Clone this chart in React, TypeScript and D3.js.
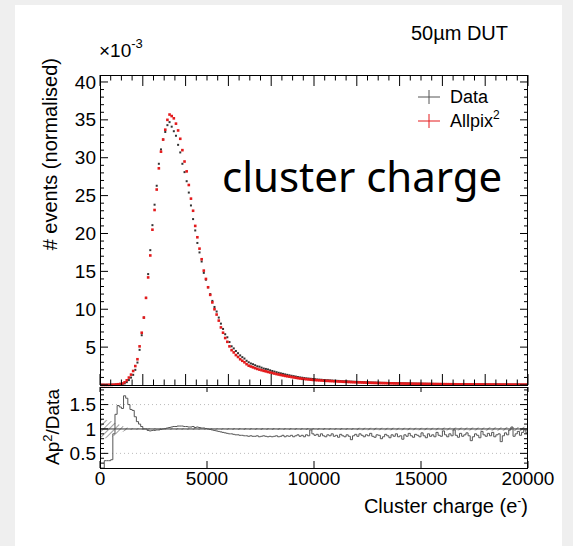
import React from 'react';
import * as d3 from 'd3';

// cluster charge spectrum, 100 e- bins from 0 to 20000, values in units of 1e-3
const BIN = 100;

const allpix = [
  0.01, 0.01, 0.012, 0.014, 0.016, 0.02, 0.04, 0.07, 0.1, 0.14, 0.2, 0.35, 0.62, 0.98, 1.37, 1.85, 2.5, 3.4, 5.1, 6.9,
  8.9, 11.5, 14.2, 17.1, 20.5, 23.1, 25.8, 28.6, 30.8, 32.4, 33.7, 35.0, 35.7, 35.5, 35.2, 34.5, 33.6, 32.5, 31.0, 29.5,
  28.2, 26.4, 24.6, 23.0, 21.0, 19.5, 18.0, 16.6, 15.1, 14.0, 12.9, 11.9, 10.9, 10.0, 9.3, 8.5, 7.6, 6.9, 6.2, 5.7,
  5.1, 4.6, 4.3, 3.95, 3.7, 3.4, 3.2, 3.0, 2.75, 2.55, 2.44, 2.33, 2.22, 2.12, 2.03, 1.95, 1.87, 1.8, 1.72, 1.65,
  1.58, 1.51, 1.44, 1.38, 1.32, 1.26, 1.2, 1.15, 1.1, 1.05, 1.0, 0.95, 0.9, 0.86, 0.82, 0.79, 0.76, 0.73, 0.7, 0.67,
  0.65, 0.63, 0.61, 0.59, 0.57, 0.55, 0.54, 0.52, 0.51, 0.49, 0.48, 0.46, 0.45, 0.43, 0.42, 0.41, 0.4, 0.38, 0.37, 0.36,
  0.35, 0.34, 0.33, 0.32, 0.31, 0.3, 0.29, 0.28, 0.27, 0.265, 0.26, 0.25, 0.245, 0.24, 0.23, 0.225, 0.22, 0.21, 0.205, 0.2,
  0.195, 0.19, 0.185, 0.18, 0.175, 0.17, 0.165, 0.16, 0.156, 0.152, 0.148, 0.144, 0.14, 0.136, 0.132, 0.128, 0.125, 0.122, 0.119, 0.116,
  0.113, 0.11, 0.107, 0.104, 0.101, 0.098, 0.095, 0.093, 0.091, 0.089, 0.087, 0.085, 0.083, 0.081, 0.079, 0.077, 0.075, 0.073, 0.071, 0.069,
  0.067, 0.066, 0.064, 0.063, 0.061, 0.06, 0.058, 0.057, 0.056, 0.054, 0.053, 0.052, 0.051, 0.05, 0.049, 0.048, 0.047, 0.046, 0.045, 0.044,
];

const measured = [
  0.05, 0.05, 0.034, 0.04, 0.046, 0.054, 0.044, 0.054, 0.068, 0.097, 0.14, 0.21, 0.38, 0.65, 0.98, 1.34, 2.0, 2.96, 4.64, 6.57,
  8.9, 11.5, 14.64, 17.8, 21.1, 23.8, 26.3, 29.2, 31.1, 32.4, 33.4, 34.3, 34.7, 34.1, 33.5, 32.9, 31.7, 30.7, 29.2, 28.1,
  26.9, 25.4, 23.7, 21.9, 20.4, 18.75, 17.5, 16.3, 14.8, 13.9, 12.9, 12.0, 11.1, 10.3, 9.7, 8.9, 8.1, 7.4, 6.7, 6.3,
  5.67, 5.11, 4.83, 4.49, 4.2, 3.91, 3.68, 3.49, 3.2, 3.0, 2.84, 2.74, 2.61, 2.47, 2.42, 2.29, 2.17, 2.12, 2.05, 1.94,
  1.85, 1.77, 1.69, 1.61, 1.54, 1.47, 1.4, 1.34, 1.28, 1.22, 1.17, 1.11, 1.05, 1.0, 0.96, 0.92, 0.88, 0.85, 0.82, 0.79,
  0.76, 0.73, 0.71, 0.69, 0.66, 0.64, 0.63, 0.61, 0.59, 0.57, 0.56, 0.54, 0.52, 0.5, 0.49, 0.48, 0.46, 0.45, 0.43, 0.42,
  0.41, 0.4, 0.38, 0.37, 0.36, 0.35, 0.34, 0.33, 0.32, 0.31, 0.3, 0.29, 0.285, 0.28, 0.27, 0.26, 0.255, 0.245, 0.24, 0.235,
  0.23, 0.22, 0.215, 0.21, 0.205, 0.2, 0.19, 0.185, 0.18, 0.177, 0.172, 0.168, 0.163, 0.158, 0.154, 0.149, 0.145, 0.142, 0.138, 0.135,
  0.131, 0.128, 0.124, 0.121, 0.117, 0.114, 0.11, 0.108, 0.106, 0.103, 0.101, 0.099, 0.096, 0.094, 0.092, 0.09, 0.087, 0.085, 0.083, 0.08,
  0.078, 0.077, 0.075, 0.073, 0.071, 0.07, 0.068, 0.066, 0.065, 0.063, 0.062, 0.06, 0.059, 0.058, 0.057, 0.056, 0.055, 0.054, 0.052, 0.051,
];

// Ap^2 / Data ratio histogram
const ratio = [
  0.2, 0.2, 0.35, 0.35, 0.35, 0.37, 0.9, 1.3, 1.48, 1.45, 1.42, 1.68, 1.63, 1.5, 1.4, 1.38, 1.25, 1.15, 1.1, 1.05,
  1.0, 1.0, 0.97, 0.96, 0.97, 0.97, 0.98, 0.98, 0.99, 1.0, 1.01, 1.02, 1.03, 1.04, 1.05, 1.05, 1.06, 1.06, 1.06, 1.05,
  1.05, 1.04, 1.04, 1.05, 1.03, 1.04, 1.03, 1.02, 1.02, 1.01, 1.0, 0.99, 0.98, 0.97, 0.96, 0.95, 0.94, 0.93, 0.92, 0.91,
  0.9, 0.9, 0.89, 0.88, 0.88, 0.87, 0.87, 0.86, 0.86, 0.85, 0.86, 0.85, 0.85, 0.86, 0.84, 0.85, 0.86, 0.85, 0.84, 0.85,
  0.84, 0.85, 0.86, 0.84, 0.85, 0.87, 0.84, 0.86, 0.85, 0.87, 0.84, 0.86, 0.88, 0.85, 0.87, 0.84, 0.88, 0.86, 0.98, 0.9,
  0.87, 0.89, 0.85, 0.9, 0.86, 0.84, 0.88, 0.86, 0.9, 0.85, 0.87, 0.83, 0.89, 0.86, 0.84, 0.88, 0.85, 0.78, 0.86, 0.89,
  0.85, 0.9, 0.87, 0.84, 0.88, 0.86, 0.91, 0.85, 0.83, 0.88, 0.87, 0.8, 0.84, 0.89, 0.86, 0.82, 0.88, 0.85, 0.9, 0.84,
  0.86, 0.79, 0.88, 0.85, 0.91, 0.86, 0.83, 0.89, 0.87, 0.84, 0.92, 0.86, 0.82, 0.9, 0.85, 0.88, 0.84, 0.93, 0.87, 0.85,
  0.96, 0.88, 0.84, 0.9, 0.86, 0.98, 0.87, 0.83, 0.91, 0.85, 0.88, 0.92, 0.86, 0.76, 0.84, 0.9, 0.87, 0.82, 0.95, 0.88,
  0.85, 0.91, 0.86, 0.93, 0.84, 0.88, 0.9, 0.74, 0.86, 0.92, 0.88, 0.98, 1.04, 0.85, 0.9, 0.95, 0.87, 0.93, 0.98, 0.92,
];

// half width of the hatched band around 1
const bandErr = [
  0.2, 0.2, 0.19, 0.18, 0.17, 0.16, 0.14, 0.12, 0.1, 0.08, 0.06, 0.04, 0.03, 0.02, 0.015, 0.015, 0.015, 0.015, 0.015, 0.015,
  0.015, 0.015, 0.015, 0.015, 0.015, 0.015, 0.015, 0.015, 0.015, 0.015, 0.015, 0.015, 0.015, 0.015, 0.015, 0.015, 0.015, 0.015, 0.015, 0.015,
  0.015, 0.015, 0.015, 0.015, 0.015, 0.015, 0.015, 0.015, 0.015, 0.015, 0.015, 0.015, 0.015, 0.015, 0.015, 0.015, 0.015, 0.015, 0.015, 0.015,
  0.02, 0.02, 0.02, 0.02, 0.02, 0.02, 0.02, 0.02, 0.02, 0.02, 0.02, 0.02, 0.02, 0.02, 0.02, 0.02, 0.02, 0.02, 0.02, 0.02,
  0.02, 0.02, 0.02, 0.02, 0.02, 0.02, 0.02, 0.02, 0.02, 0.02, 0.02, 0.02, 0.02, 0.02, 0.02, 0.02, 0.02, 0.02, 0.02, 0.02,
  0.02, 0.02, 0.02, 0.02, 0.02, 0.02, 0.02, 0.02, 0.02, 0.02, 0.02, 0.02, 0.02, 0.02, 0.02, 0.02, 0.02, 0.02, 0.02, 0.02,
  0.025, 0.025, 0.025, 0.025, 0.025, 0.025, 0.025, 0.025, 0.025, 0.025, 0.025, 0.025, 0.025, 0.025, 0.025, 0.025, 0.025, 0.025, 0.025, 0.025,
  0.025, 0.025, 0.025, 0.025, 0.025, 0.025, 0.025, 0.025, 0.025, 0.025, 0.025, 0.025, 0.025, 0.025, 0.025, 0.025, 0.025, 0.025, 0.025, 0.025,
  0.03, 0.03, 0.03, 0.03, 0.03, 0.03, 0.03, 0.03, 0.03, 0.03, 0.03, 0.03, 0.03, 0.03, 0.03, 0.03, 0.03, 0.03, 0.03, 0.03,
  0.035, 0.035, 0.035, 0.035, 0.035, 0.035, 0.035, 0.035, 0.035, 0.035, 0.04, 0.04, 0.04, 0.04, 0.04, 0.04, 0.045, 0.045, 0.045, 0.045,
];

const xTickLabels = [0, 5000, 10000, 15000, 20000];
const yTickLabels = [5, 10, 15, 20, 25, 30, 35, 40];
const ratioTickLabels = [0.5, 1, 1.5];

const FONT = '"Liberation Sans", Arial, Helvetica, sans-serif';
const RED = '#e41a1c';

const App = () => {
  const left = 100, right = 528;
  const top = 75, mainBottom = 385;
  const ratioTop = 387, ratioBottom = 468;

  const x = d3.scaleLinear().domain([0, 20000]).range([left, right]);
  const y = d3.scaleLinear().domain([0, 40.92]).range([mainBottom, top]);
  const yr = d3.scaleLinear().domain([0.2, 1.86]).range([ratioBottom, ratioTop]);

  const edges = d3.range(ratio.length + 1).map(i => i * BIN);

  const stepLine = d3.line<number>()
    .x((_, i) => x(edges[i]))
    .y(v => yr(v))
    .curve(d3.curveStepAfter);
  const ratioPath = stepLine([...ratio, ratio[ratio.length - 1]]) || '';

  const band = d3.area<number>()
    .x((_, i) => x(edges[i]))
    .y0((v) => yr(1 - v))
    .y1((v) => yr(1 + v))
    .curve(d3.curveStepAfter);
  const bandPath = band([...bandErr, bandErr[bandErr.length - 1]]) || '';

  const xMajor = d3.range(0, 20001, 2000);
  const xMinor = d3.range(0, 20001, 500).filter(v => v % 2000 !== 0);
  const yMajor = d3.range(0, 41, 5);
  const yMinor = d3.range(0, 41, 1).filter(v => v % 5 !== 0);
  const rMajor = [0.5, 1, 1.5];
  const rMinor = d3.range(3, 19).map(v => v / 10).filter(v => !rMajor.includes(v));

  const tick = (key: string, x1: number, y1: number, x2: number, y2: number) => (
    <line key={key} x1={x1} y1={y1} x2={x2} y2={y2} stroke="#000" strokeWidth={1} />
  );

  return (
    <div style={{ position: 'fixed', left: 0, top: 0 }}>
      <svg width={573} height={546} style={{ display: 'block', fontFamily: FONT }}>
        <defs>
          <clipPath id="mainClip">
            <rect x={left} y={top} width={right - left} height={mainBottom - top + 2} />
          </clipPath>
          <clipPath id="ratioClip">
            <rect x={left} y={ratioTop} width={right - left} height={ratioBottom - ratioTop} />
          </clipPath>
          <pattern id="hatch" width={4} height={4} patternUnits="userSpaceOnUse" patternTransform="rotate(45)">
            <line x1={0} y1={0} x2={0} y2={4} stroke="#444" strokeWidth={1} />
          </pattern>
        </defs>

        <rect x={0} y={0} width={573} height={546} fill="#efefef" />
        <rect x={15} y={5} width={547} height={541} fill="#fff" />

        {/* main panel */}
        <g clipPath="url(#mainClip)">
          {measured.map((v, i) => (
            <rect key={`d${i}`} x={x(i * BIN + BIN / 2) - 1} y={y(v) - 1} width={2} height={2} fill="#333" />
          ))}
          {allpix.map((v, i) => (
            <rect key={`a${i}`} x={x(i * BIN + BIN / 2) - 1.3} y={y(v) - 1.3} width={2.6} height={2.6} fill={RED} />
          ))}
        </g>

        <rect x={left + 0.5} y={top + 0.5} width={right - left - 1} height={mainBottom - top} fill="none" stroke="#000" />
        {xMajor.map(v => tick(`xmt${v}`, x(v), top, x(v), top + 11))}
        {xMajor.map(v => tick(`xmb${v}`, x(v), mainBottom, x(v), mainBottom - 11))}
        {xMinor.map(v => tick(`xnt${v}`, x(v), top, x(v), top + 5.5))}
        {xMinor.map(v => tick(`xnb${v}`, x(v), mainBottom, x(v), mainBottom - 5.5))}
        {yMajor.map(v => tick(`yml${v}`, left, y(v), left + 8, y(v)))}
        {yMajor.map(v => tick(`ymr${v}`, right, y(v), right - 8, y(v)))}
        {yMinor.map(v => tick(`ynl${v}`, left, y(v), left + 4, y(v)))}
        {yMinor.map(v => tick(`ynr${v}`, right, y(v), right - 4, y(v)))}

        {yTickLabels.map(v => (
          <text key={`yl${v}`} x={96} y={y(v)} dy="0.35em" textAnchor="end" fontSize={19} fill="#000">{v}</text>
        ))}

        <text x={99} y={57} fontSize={19} fill="#000">
          ×10<tspan dy={-9} fontSize={13}>-3</tspan>
        </text>
        <text x={508} y={40} textAnchor="end" fontSize={20} fill="#000">50µm DUT</text>

        <text transform="translate(57,58) rotate(-90)" textAnchor="end" fontSize={20} fill="#000">
          # events (normalised)
        </text>

        {/* legend */}
        <line x1={418} y1={97} x2={440} y2={97} stroke="#555" />
        <line x1={429} y1={90} x2={429} y2={104} stroke="#555" />
        <text x={450} y={103} fontSize={18} fill="#000">Data</text>
        <line x1={418} y1={121} x2={440} y2={121} stroke={RED} />
        <line x1={429} y1={114} x2={429} y2={128} stroke={RED} />
        <text x={450} y={127} fontSize={18} fill="#000">
          Allpix<tspan dy={-8} fontSize={12}>2</tspan>
        </text>

        {/* ratio panel */}
        {[0.5, 1.5].map(v => (
          <line key={`g${v}`} x1={left} x2={right} y1={yr(v)} y2={yr(v)} stroke="#bbb" strokeDasharray="1,3" />
        ))}
        <g clipPath="url(#ratioClip)">
          <path d={bandPath} fill="url(#hatch)" stroke="none" />
          <line x1={left} x2={right} y1={yr(1)} y2={yr(1)} stroke="#333" strokeWidth={1} />
          <path d={ratioPath} fill="none" stroke="#555" strokeWidth={1} />
        </g>
        <rect x={left + 0.5} y={ratioTop + 0.5} width={right - left - 1} height={ratioBottom - ratioTop} fill="none" stroke="#000" />
        {xTickLabels.map(v => tick(`rxt${v}`, x(v), ratioTop, x(v), ratioTop + 5))}
        {xTickLabels.map(v => tick(`rxb${v}`, x(v), ratioBottom, x(v), ratioBottom - 7))}
        {rMajor.map(v => tick(`rml${v}`, left, yr(v), left + 8, yr(v)))}
        {rMajor.map(v => tick(`rmr${v}`, right, yr(v), right - 8, yr(v)))}
        {rMinor.map(v => tick(`rnl${v}`, left, yr(v), left + 4, yr(v)))}
        {rMinor.map(v => tick(`rnr${v}`, right, yr(v), right - 4, yr(v)))}

        {ratioTickLabels.map(v => (
          <text key={`rl${v}`} x={96} y={yr(v)} dy="0.35em" textAnchor="end" fontSize={19} fill="#000">{v}</text>
        ))}
        <text transform="translate(59,427) rotate(-90)" textAnchor="middle" fontSize={19} fill="#000">
          Ap<tspan dy={-7} fontSize={13}>2</tspan><tspan dy={7}>/Data</tspan>
        </text>

        {xTickLabels.map(v => (
          <text key={`xl${v}`} x={x(v)} y={485} textAnchor="middle" fontSize={19} fill="#000">{v}</text>
        ))}
        <text x={528} y={513} textAnchor="end" fontSize={20} fill="#000">
          Cluster charge (e<tspan dy={-8} fontSize={12}>-</tspan><tspan dy={8}>)</tspan>
        </text>

        <text x={222} y={192} fontSize={42} fill="#000" style={{ fontFamily: '"Noto Sans", sans-serif' }}>
          cluster charge
        </text>
      </svg>
    </div>
  );
};

export default App;
